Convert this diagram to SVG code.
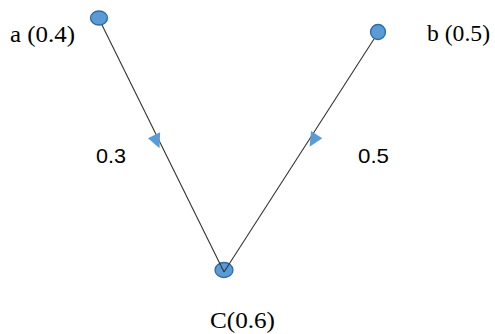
<svg xmlns="http://www.w3.org/2000/svg" width="495" height="334" viewBox="0 0 495 334">
<style>
.node{fill:#5b9bd5;stroke:#2e6aa6;stroke-width:1.3}
.edge{stroke:#333;stroke-width:1.1;fill:none}
.arr{fill:#5b9bd5}
text{font-family:"Liberation Serif",serif;font-size:24px;fill:#000}
text.w{font-family:"Liberation Sans",Arial,sans-serif;font-size:21px}
</style>
<rect width="495" height="334" fill="#fff"/>
<g id="node-a"><ellipse class="node" cx="99" cy="18" rx="8.5" ry="7"/><text x="10" y="42" textLength="65" lengthAdjust="spacingAndGlyphs">a (0.4)</text></g>
<g id="node-b"><ellipse class="node" cx="378" cy="32" rx="7.5" ry="7.5"/><text x="427" y="41" textLength="63" lengthAdjust="spacingAndGlyphs">b (0.5)</text></g>
<g id="node-c"><ellipse class="node" cx="224" cy="270" rx="9" ry="7.5"/><text x="210" y="328" textLength="65" lengthAdjust="spacingAndGlyphs">C(0.6)</text></g>
<g id="labels"><text class="w" x="96" y="163" textLength="30" lengthAdjust="spacingAndGlyphs">0.3</text><text class="w" x="358" y="163" textLength="31" lengthAdjust="spacingAndGlyphs">0.5</text></g>
<g id="connectors">
<line class="edge" x1="102" y1="25" x2="224" y2="272"/>
<line class="edge" x1="374" y1="39" x2="224" y2="272"/>
<polygon class="arr" points="8,0 -6,-7.5 -6,6" transform="translate(156,141) rotate(64)"/>
<polygon class="arr" points="8,0 -6,-6 -6,7.5" transform="translate(314,140) rotate(123)"/>
</g>
</svg>
